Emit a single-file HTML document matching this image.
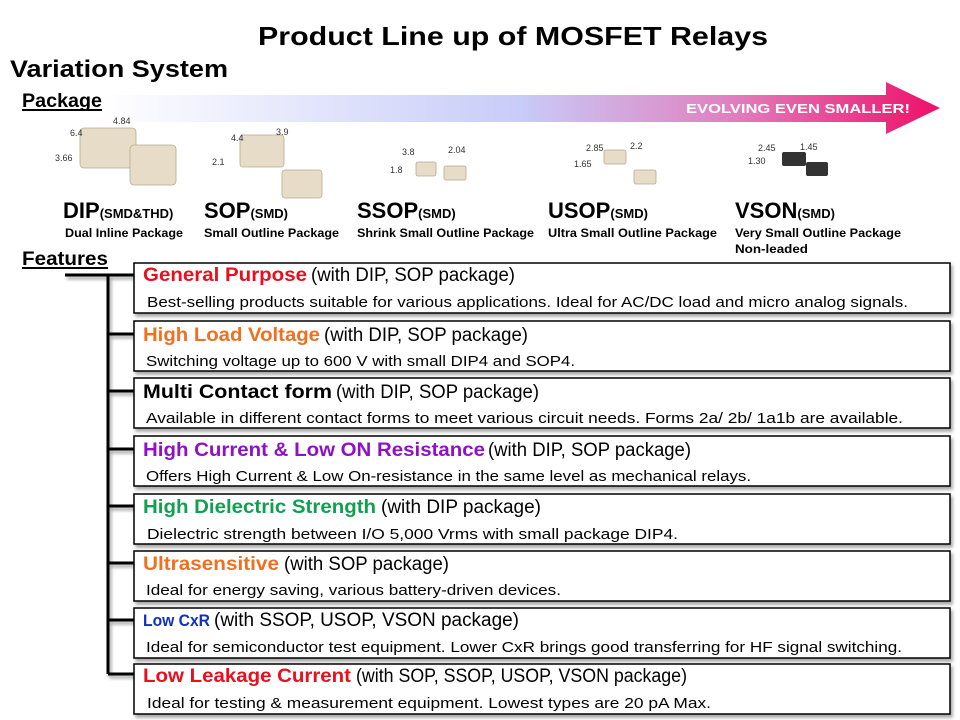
<!DOCTYPE html>
<html><head><meta charset="utf-8"><style>
html,body{margin:0;padding:0;background:#fff;}
svg{display:block;font-family:"Liberation Sans",sans-serif;}
</style></head><body>
<svg width="960" height="720" viewBox="0 0 960 720" xmlns="http://www.w3.org/2000/svg">
<defs>
<linearGradient id="ag" x1="0" x2="1" y1="0" y2="0">
<stop offset="0" stop-color="#ffffff"/>
<stop offset="0.5" stop-color="#c8ccf8"/>
<stop offset="0.75" stop-color="#e080c0"/>
<stop offset="1" stop-color="#ee1068"/>
</linearGradient>
<filter id="sh" x="-5%" y="-5%" width="110%" height="130%"><feDropShadow dx="2" dy="3" stdDeviation="1.5" flood-color="#000" flood-opacity="0.35"/></filter>
</defs>
<polygon points="100,95 886,95 886,82 940,108 886,134 886,122 100,122" fill="url(#ag)"/>
<text x="686" y="113" font-size="13" font-weight="bold" fill="#fff" textLength="224" lengthAdjust="spacingAndGlyphs">EVOLVING EVEN SMALLER!</text>
<text x="258" y="45" font-size="26" font-weight="bold" textLength="510" lengthAdjust="spacingAndGlyphs">Product Line up of MOSFET Relays</text>
<text x="10" y="77" font-size="24" font-weight="bold" textLength="218" lengthAdjust="spacingAndGlyphs">Variation System</text>
<text x="22" y="107" font-size="19" font-weight="bold" textLength="80" lengthAdjust="spacingAndGlyphs">Package</text>
<rect x="22" y="109" width="80" height="2"/>

<g fill="#e6dcc8" stroke="#b8ab90" stroke-width="0.8">
<rect x="80" y="128" width="56" height="40" rx="4"/><rect x="130" y="145" width="46" height="40" rx="4"/>
<rect x="240" y="135" width="44" height="32" rx="3"/><rect x="282" y="170" width="40" height="28" rx="3"/>
<rect x="416" y="162" width="20" height="14" rx="2"/><rect x="444" y="166" width="22" height="14" rx="2"/>
<rect x="604" y="150" width="22" height="14" rx="2"/><rect x="634" y="170" width="22" height="14" rx="2"/>
</g>
<g fill="#333"><rect x="782" y="152" width="24" height="14" rx="2"/><rect x="806" y="162" width="22" height="14" rx="2"/></g>
<g font-size="9" fill="#333">
<text x="70" y="136">6.4</text><text x="113" y="124">4.84</text><text x="55" y="161">3.66</text>
<text x="231" y="141">4.4</text><text x="276" y="135">3.9</text><text x="212" y="165">2.1</text>
<text x="402" y="155">3.8</text><text x="448" y="153">2.04</text><text x="390" y="173">1.8</text>
<text x="586" y="151">2.85</text><text x="630" y="149">2.2</text><text x="574" y="167">1.65</text>
<text x="758" y="151">2.45</text><text x="800" y="150">1.45</text><text x="748" y="164">1.30</text>
</g>
<g font-weight="bold">
<text x="63" y="218" font-size="22">DIP<tspan font-size="13">(SMD&amp;THD)</tspan></text>
<text x="204" y="218" font-size="22">SOP<tspan font-size="13">(SMD)</tspan></text>
<text x="357" y="218" font-size="22">SSOP<tspan font-size="13">(SMD)</tspan></text>
<text x="548" y="218" font-size="22">USOP<tspan font-size="13">(SMD)</tspan></text>
<text x="735" y="218" font-size="22">VSON<tspan font-size="13">(SMD)</tspan></text>
<g font-size="12">
<text x="65" y="237" textLength="118" lengthAdjust="spacingAndGlyphs">Dual Inline Package</text>
<text x="204" y="237" textLength="135" lengthAdjust="spacingAndGlyphs">Small Outline Package</text>
<text x="357" y="237" textLength="177" lengthAdjust="spacingAndGlyphs">Shrink Small Outline Package</text>
<text x="548" y="237" textLength="169" lengthAdjust="spacingAndGlyphs">Ultra Small Outline Package</text>
<text x="735" y="237" textLength="166" lengthAdjust="spacingAndGlyphs">Very Small Outline Package</text>
<text x="735" y="253" textLength="73" lengthAdjust="spacingAndGlyphs">Non-leaded</text>
</g>
</g>
<text x="22" y="265" font-size="19" font-weight="bold" textLength="86" lengthAdjust="spacingAndGlyphs">Features</text>
<rect x="22" y="267" width="86" height="2"/>

<g stroke="#000" stroke-width="3" fill="none" filter="url(#sh)">
<path d="M65 275 H134 M108 275 V674"/>
<path d="M108 334 H134 M108 391 H134 M108 449 H134 M108 506 H134 M108 563 H134 M108 620 H134 M108 674 H134"/>
</g>

<g fill="#fff" stroke="#000" stroke-width="1.5" filter="url(#sh)">
<rect x="134" y="263" width="816" height="50"/>
<rect x="134" y="321" width="816" height="50"/>
<rect x="134" y="378" width="816" height="50"/>
<rect x="134" y="436" width="816" height="50"/>
<rect x="134" y="494" width="816" height="50"/>
<rect x="134" y="551" width="816" height="50"/>
<rect x="134" y="608" width="816" height="50"/>
<rect x="134" y="664" width="816" height="50"/>
</g>
<g font-size="19">
<text x="143" y="281" font-weight="bold" fill="#e8101e" textLength="164" lengthAdjust="spacingAndGlyphs">General Purpose</text>
<text x="311" y="281" textLength="204" lengthAdjust="spacingAndGlyphs">(with DIP, SOP package)</text>
<text x="143" y="341" font-weight="bold" fill="#f07020" textLength="177" lengthAdjust="spacingAndGlyphs">High Load Voltage</text>
<text x="324" y="341" textLength="204" lengthAdjust="spacingAndGlyphs">(with DIP, SOP package)</text>
<text x="143" y="398" font-weight="bold" fill="#000" textLength="189" lengthAdjust="spacingAndGlyphs">Multi Contact form</text>
<text x="336" y="398" textLength="203" lengthAdjust="spacingAndGlyphs">(with DIP, SOP package)</text>
<text x="143" y="456" font-weight="bold" fill="#9010c8" textLength="342" lengthAdjust="spacingAndGlyphs">High Current &amp; Low ON Resistance</text>
<text x="488" y="456" textLength="203" lengthAdjust="spacingAndGlyphs">(with DIP, SOP package)</text>
<text x="143" y="513" font-weight="bold" fill="#10a050" textLength="233" lengthAdjust="spacingAndGlyphs">High Dielectric Strength</text>
<text x="381" y="513" textLength="160" lengthAdjust="spacingAndGlyphs">(with DIP package)</text>
<text x="143" y="570" font-weight="bold" fill="#f07020" textLength="136" lengthAdjust="spacingAndGlyphs">Ultrasensitive</text>
<text x="284" y="570" textLength="165" lengthAdjust="spacingAndGlyphs">(with SOP package)</text>
<text x="143" y="626" font-weight="bold" fill="#1030c0" font-size="17" textLength="67" lengthAdjust="spacingAndGlyphs">Low CxR</text>
<text x="214" y="626" textLength="305" lengthAdjust="spacingAndGlyphs">(with SSOP, USOP, VSON package)</text>
<text x="143" y="682" font-weight="bold" fill="#e8101e" textLength="208" lengthAdjust="spacingAndGlyphs">Low Leakage Current</text>
<text x="356" y="682" textLength="331" lengthAdjust="spacingAndGlyphs">(with SOP, SSOP, USOP, VSON package)</text>
</g>
<g font-size="14.5">
<text x="147" y="307" textLength="761" lengthAdjust="spacingAndGlyphs">Best-selling products suitable for various applications. Ideal for AC/DC load and micro analog signals.</text>
<text x="146" y="366" textLength="429" lengthAdjust="spacingAndGlyphs">Switching voltage up to 600 V with small DIP4 and SOP4.</text>
<text x="146" y="423" textLength="757" lengthAdjust="spacingAndGlyphs">Available in different contact forms to meet various circuit needs.  Forms 2a/ 2b/ 1a1b are available.</text>
<text x="146" y="481" textLength="605" lengthAdjust="spacingAndGlyphs">Offers High Current &amp; Low On-resistance in the same level as mechanical relays.</text>
<text x="147" y="539" textLength="531" lengthAdjust="spacingAndGlyphs">Dielectric strength between I/O  5,000 Vrms with small package DIP4.</text>
<text x="146" y="595" textLength="415" lengthAdjust="spacingAndGlyphs">Ideal for energy saving, various battery-driven devices.</text>
<text x="146" y="652" textLength="756" lengthAdjust="spacingAndGlyphs">Ideal for semiconductor test equipment. Lower CxR brings good transferring for HF signal switching.</text>
<text x="147" y="708" textLength="564" lengthAdjust="spacingAndGlyphs">Ideal for testing &amp; measurement equipment. Lowest types are  20 pA Max.</text>
</g>
</svg>
</body></html>
